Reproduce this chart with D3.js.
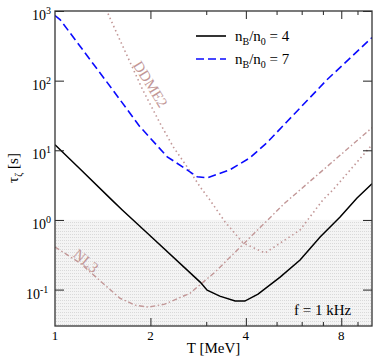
<!DOCTYPE html>
<html>
<head>
<meta charset="utf-8">
<script src="https://cdn.jsdelivr.net/npm/d3@7"></script>
<style>
  body { margin: 0; background: #fff; }
  svg text { font-family: "Liberation Serif", "Times New Roman", serif; }
</style>
</head>
<body>
<div id="chart"></div>
<script>
// T [MeV] and tau [s]
const tempB4 = [1.0, 1.2, 1.51, 1.63, 2.0, 2.87, 3.02, 3.31, 3.70, 3.97, 4.37, 5.13, 5.93, 6.86, 7.93, 8.97, 10];
const tauB4  = [12.0, 5.4, 1.94, 1.39, 0.589, 0.128, 0.098, 0.0806, 0.0684, 0.0684, 0.0861, 0.151, 0.266, 0.569, 1.10, 2.07, 3.30];

const tempB7 = [1.0, 1.037, 1.52, 1.85, 2.26, 2.61, 2.81, 3.02, 3.56, 4.12, 4.66, 5.39, 7.21, 10];
const tauB7  = [861, 755, 74, 22, 8.06, 5.24, 4.16, 4.02, 5.24, 7.8, 12.8, 25.7, 103, 416];

const tempDDME2 = [1.45, 1.60, 1.89, 2.14, 2.36, 2.61, 2.87, 3.08, 3.44, 3.92, 4.60, 5.93, 7.0, 7.53, 10];
const tauDDME2  = [1050, 389, 74, 24.9, 11.2, 5.79, 2.98, 1.94, 0.935, 0.467, 0.335, 0.718, 1.94, 2.70, 12.0];

const tempNL3 = [1.0, 1.20, 1.39, 1.60, 1.79, 1.97, 2.22, 2.67, 3.20, 5.31, 10];
const tauNL3  = [0.409, 0.240, 0.133, 0.0755, 0.0598, 0.056, 0.0618, 0.089, 0.179, 1.75, 21.1];

const xMajor = [2, 4, 8];
const xMinor = [3, 5, 6, 7, 9];
const xLabels = [1, 2, 4, 8];
const yDecades = [-1, 0, 1, 2, 3];

const W = 374, H = 362;
const m = {left: 55, top: 11, right: 2, bottom: 36};
const rose = "#c29797";

const svg = d3.select("#chart").append("svg")
  .attr("width", W).attr("height", H);

const x = d3.scaleLog().domain([1, 10]).range([m.left, W - m.right]);
const y = d3.scaleLog().domain([0.03, 1000]).range([H - m.bottom, m.top]);

const defs = svg.append("defs");
defs.append("clipPath").attr("id", "clip")
  .append("rect")
  .attr("x", x(1)).attr("y", y(1000))
  .attr("width", x(10) - x(1)).attr("height", y(0.03) - y(1000));

// light dotted shading below 1 s
const pat = defs.append("pattern").attr("id", "shade")
  .attr("width", 2).attr("height", 3).attr("patternUnits", "userSpaceOnUse");
pat.append("rect").attr("width", 2).attr("height", 3).attr("fill", "#f4f4f4");
pat.append("rect").attr("width", 1).attr("height", 1).attr("fill", "#d9d9d9");

svg.append("rect")
  .attr("x", x(1)).attr("y", y(1))
  .attr("width", x(10) - x(1)).attr("height", y(0.03) - y(1))
  .attr("fill", "url(#shade)");

const line = d3.line().x(d => x(d[0])).y(d => y(d[1]));
const plot = svg.append("g").attr("clip-path", "url(#clip)");

function addCurve(ts, vs, color, dash, width) {
  plot.append("path")
    .datum(d3.zip(ts, vs))
    .attr("d", line)
    .attr("fill", "none")
    .attr("stroke", color)
    .attr("stroke-width", width)
    .attr("stroke-dasharray", dash);
}

addCurve(tempDDME2, tauDDME2, rose, "1.5,3", 1.6);
addCurve(tempNL3, tauNL3, rose, "5,2.5,1.5,2.5", 1.4);
addCurve(tempB7, tauB7, "#0a0aff", "8,4", 1.6);
addCurve(tempB4, tauB4, "#000", null, 1.5);

// axes, ticks inward
const yBot = H - m.bottom, yTop = m.top;
svg.append("g").attr("transform", `translate(0,${yBot})`)
  .call(d3.axisBottom(x).tickValues(xMajor).tickSize(-8).tickFormat(""));
svg.append("g").attr("transform", `translate(0,${yBot})`)
  .call(d3.axisBottom(x).tickValues(xMinor).tickSize(-4).tickFormat(""));
svg.append("g").attr("transform", `translate(0,${yTop})`)
  .call(d3.axisTop(x).tickValues(xMajor).tickSize(-8).tickFormat(""));
svg.append("g").attr("transform", `translate(0,${yTop})`)
  .call(d3.axisTop(x).tickValues(xMinor).tickSize(-4).tickFormat(""));

const yTicks = yDecades.map(e => Math.pow(10, e));
svg.append("g").attr("transform", `translate(${m.left},0)`)
  .call(d3.axisLeft(y).tickValues(yTicks).tickSize(-9).tickFormat(""));
svg.append("g").attr("transform", `translate(${W - m.right},0)`)
  .call(d3.axisRight(y).tickValues(yTicks).tickSize(-9).tickFormat(""));

svg.selectAll(".domain").remove();
svg.selectAll(".tick line").attr("stroke", "#222").attr("stroke-width", 1);

svg.append("rect")
  .attr("x", x(1)).attr("y", y(1000))
  .attr("width", x(10) - x(1)).attr("height", y(0.03) - y(1000))
  .attr("fill", "none").attr("stroke", "#333").attr("stroke-width", 1.3);

// tick labels
svg.append("g").selectAll("text").data(xLabels).join("text")
  .attr("x", d => x(d)).attr("y", yBot + 14)
  .attr("text-anchor", "middle").attr("font-size", 13)
  .text(d => d);

const yl = svg.append("g").selectAll("text").data(yDecades).join("text")
  .attr("x", d => d < 0 ? 26 : 32).attr("y", d => y(Math.pow(10, d)) + 9)
  .attr("font-size", 14);
yl.append("tspan").text("10");
yl.append("tspan").attr("font-size", 10).attr("dy", -6).text(d => d);

svg.append("text")
  .attr("x", (x(1) + x(10)) / 2).attr("y", H - 9)
  .attr("text-anchor", "middle").attr("font-size", 15)
  .text("T [MeV]");

const ylab = svg.append("text")
  .attr("transform", "translate(18,168) rotate(-90)")
  .attr("text-anchor", "middle").attr("font-size", 15);
ylab.append("tspan").text("τ");
ylab.append("tspan").attr("font-size", 10).attr("dy", 4).text("ζ");
ylab.append("tspan").attr("dy", -4).text(" [s]");

// legend
const legItems = [
  {val: 4, color: "#000", dash: null, yy: 36},
  {val: 7, color: "#0a0aff", dash: "8,4", yy: 59}
];
legItems.forEach(it => {
  svg.append("line")
    .attr("x1", 196).attr("x2", 226).attr("y1", it.yy).attr("y2", it.yy)
    .attr("stroke", it.color).attr("stroke-width", 1.6)
    .attr("stroke-dasharray", it.dash);
  const t = svg.append("text").attr("x", 235).attr("y", it.yy + 5).attr("font-size", 15);
  t.append("tspan").text("n");
  t.append("tspan").attr("font-size", 10).attr("dy", 4).text("B");
  t.append("tspan").attr("dy", -4).text("/n");
  t.append("tspan").attr("font-size", 10).attr("dy", 4).text("0");
  t.append("tspan").attr("dy", -4).text(" = " + it.val);
});

svg.append("text")
  .attr("x", 294).attr("y", 315).attr("font-size", 15)
  .text("f = 1 kHz");

// curve labels
svg.append("text")
  .attr("transform", "translate(149,85) rotate(58)")
  .attr("text-anchor", "middle").attr("dominant-baseline", "middle")
  .attr("font-size", 15).attr("fill", rose)
  .text("DDME2");
svg.append("text")
  .attr("transform", "translate(85,262) rotate(40)")
  .attr("text-anchor", "middle").attr("dominant-baseline", "middle")
  .attr("font-size", 15).attr("fill", rose)
  .text("NL3");
</script>
</body>
</html>
